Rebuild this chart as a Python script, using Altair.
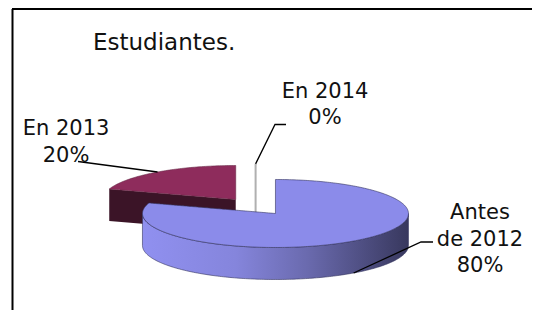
import numpy as np
import pandas as pd
import altair as alt

# ---------------- data ----------------
categories = ["Antes de 2012", "En 2013", "En 2014"]
values = [80, 20, 0]
chart_title = "Estudiantes."

# ---------------- layout / style ----------------
W, H = 524, 302          # plot size (page px)
X0, Y0 = 8, 8            # page margin
CX, CY = 255.6, 206.5    # pie base centre
A, B = 133.0, 34.0       # ellipse radii
DEPTH = 32.0             # pie thickness
EXPLODE = 33.8           # explode distance
LH = 26.5                # label line height
FONT = "DejaVu Sans"

blue_side = alt.Gradient(
    gradient="linear",
    stops=[alt.GradientStop(color="#9090f0", offset=0),
           alt.GradientStop(color="#8585dc", offset=0.35),
           alt.GradientStop(color="#6a6aae", offset=0.62),
           alt.GradientStop(color="#38385e", offset=1)],
    x1=0, x2=1, y1=0, y2=0)

styles = {
    "Antes de 2012": dict(top="#8b8bea", side=blue_side, stroke="#34345e"),
    "En 2013": dict(top="#8e2c5c", side="#3b1427", stroke="#6a2a48"),
    "En 2014": dict(top="#ffffff", side="#ffffff", stroke="#b0b0b0"),
}

label_layout = {
    "Antes de 2012": dict(x=480, y=219, lines=["Antes", "de 2012"],
                          knee=[(433, 242), (421, 242)], onside=True),
    "En 2013": dict(x=66, y=135, lines=["En 2013"], knee=[(78, 161.5)], onside=False),
    "En 2014": dict(x=325, y=97.5, lines=["En 2014"],
                    knee=[(286, 124.5), (275, 124.5)], onside=False),
}

xs = alt.Scale(domain=[X0, X0 + W], nice=False, zero=False)
ys = alt.Scale(domain=[Y0, Y0 + H], nice=False, zero=False, reverse=True)


def arc(cx, cy, t0, t1, dy=0.0):
    n = max(2, int(abs(t1 - t0)) + 1)
    ts = np.radians(np.linspace(t0, t1, n))
    return [(cx + A * np.sin(t), cy - B * np.cos(t) + dy) for t in ts]


def spans(poly):
    pts = np.array(poly, dtype=float)
    xmin, xmax = pts[:, 0].min(), pts[:, 0].max()
    cand = np.unique(np.concatenate([pts[:, 0] - 1e-3, pts[:, 0] + 1e-3]))
    cand = cand[(cand > xmin) & (cand < xmax)]
    nxt = np.roll(pts, -1, axis=0)
    rows = []
    for x in cand:
        hits = []
        for (x1, y1), (x2, y2) in zip(pts, nxt):
            if (x1 - x) * (x2 - x) < 0:
                t = (x - x1) / (x2 - x1)
                hits.append(y1 + t * (y2 - y1))
        if hits:
            rows.append(dict(x=x, y=min(hits), y2=max(hits)))
    return pd.DataFrame(rows)


def area_layer(poly, color, stroke=None, sw=0.7):
    kw = dict(orient="vertical", color=color)
    if stroke:
        kw.update(stroke=stroke, strokeWidth=sw)
    return alt.Chart(spans(poly)).mark_area(**kw).encode(
        x=alt.X("x:Q", scale=xs, axis=None),
        y=alt.Y("y:Q", scale=ys, axis=None, stack=None),
        y2="y2:Q")


# ---------------- pie geometry from the values ----------------
total = float(sum(values))
slices = []
start = 0.0
for cat, v in zip(categories, values):
    end = start + 360.0 * v / total
    mid = (start + end) / 2
    cx = CX + EXPLODE * np.sin(np.radians(mid))
    cy = CY - EXPLODE * (B / A) * np.cos(np.radians(mid))
    slices.append(dict(cat=cat, v=v, t0=start, t1=end, mid=mid, cx=cx, cy=cy))
    start = end

layers = []

# frame (top and left edges)
frame = pd.DataFrame([dict(x=12, x2=X0 + W, y=9, y2=9), dict(x=12.5, x2=12.5, y=9, y2=Y0 + H)])
layers.append(alt.Chart(frame).mark_rule(color="#000000", strokeWidth=2).encode(
    x=alt.X("x:Q", scale=xs, axis=None), x2="x2:Q",
    y=alt.Y("y:Q", scale=ys, axis=None), y2="y2:Q"))

for s in sorted(slices, key=lambda s: -np.cos(np.radians(s["mid"]))):
    st = styles[s["cat"]]
    cx, cy, t0, t1 = s["cx"], s["cy"], s["t0"], s["t1"]
    if t1 - t0 < 1e-9:
        z = pd.DataFrame([dict(x=cx, y=cy - B, y2=cy + DEPTH)])
        layers.append(alt.Chart(z).mark_rule(color=st["stroke"], strokeWidth=2).encode(
            x=alt.X("x:Q", scale=xs, axis=None),
            y=alt.Y("y:Q", scale=ys, axis=None), y2="y2:Q"))
        continue
    # radial cut faces facing the viewer
    for t, vis in ((t0, np.sin(np.radians(t0)) < -1e-9), (t1, np.sin(np.radians(t1)) > 1e-9)):
        if vis:
            px, py = arc(cx, cy, t, t, 0)[0]
            poly = [(cx, cy), (px, py), (px, py + DEPTH), (cx, cy + DEPTH)]
            layers.append(area_layer(poly, st["side"]))
    # outer front side
    lo, hi = max(t0, 90.0), min(t1, 270.0)
    if lo < hi:
        poly = arc(cx, cy, lo, hi) + arc(cx, cy, lo, hi, DEPTH)[::-1]
        layers.append(area_layer(poly, st["side"], stroke=st["stroke"], sw=0.6))
    # top face
    poly = [(cx, cy)] + arc(cx, cy, t0, t1)
    layers.append(area_layer(poly, st["top"], stroke=st["stroke"], sw=0.6))

# ---------------- leader lines ----------------
lead_rows = []
for i, s in enumerate(slices):
    lay = label_layout[s["cat"]]
    ex, ey = arc(s["cx"], s["cy"], s["mid"], s["mid"])[0]
    if lay["onside"]:
        ey += DEPTH
    pts = lay["knee"] + [(ex, ey)]
    for k, (x, y) in enumerate(pts):
        lead_rows.append(dict(id=i, k=k, x=x, y=y))
layers.append(alt.Chart(pd.DataFrame(lead_rows)).mark_line(color="#000000", strokeWidth=1.3).encode(
    x=alt.X("x:Q", scale=xs, axis=None),
    y=alt.Y("y:Q", scale=ys, axis=None),
    detail="id:N", order="k:Q"))

# ---------------- labels ----------------
text_rows = []
for s in slices:
    lay = label_layout[s["cat"]]
    lines = lay["lines"] + [f"{round(100 * s['v'] / total)}%"]
    for i, t in enumerate(lines):
        text_rows.append(dict(x=lay["x"], y=lay["y"] + i * LH, text=t))
layers.append(alt.Chart(pd.DataFrame(text_rows)).mark_text(
    align="center", baseline="alphabetic", font=FONT, fontSize=21, color="#111111").encode(
    x=alt.X("x:Q", scale=xs, axis=None),
    y=alt.Y("y:Q", scale=ys, axis=None),
    text="text:N"))

title_df = pd.DataFrame([dict(x=93, y=49.5, text=chart_title)])
layers.append(alt.Chart(title_df).mark_text(
    align="left", baseline="alphabetic", font=FONT, fontSize=23, color="#111111").encode(
    x=alt.X("x:Q", scale=xs, axis=None),
    y=alt.Y("y:Q", scale=ys, axis=None),
    text="text:N"))

chart = alt.layer(*layers).properties(
    width=W, height=H, padding=0, background="white",
    autosize=alt.AutoSizeParams(type="none"),
).configure_view(stroke=None)

chart.save("out.html", embed_options={"renderer": "svg", "actions": False})
